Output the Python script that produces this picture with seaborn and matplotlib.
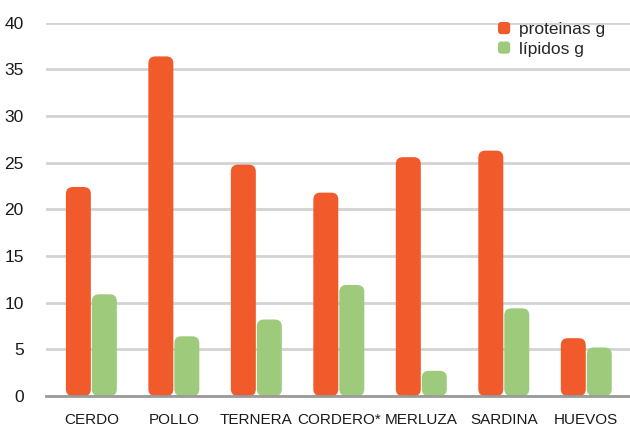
import numpy as np
import pandas as pd
import matplotlib
matplotlib.use("Agg")
import matplotlib.pyplot as plt
import seaborn as sns
from matplotlib.patches import FancyBboxPatch, Patch
from matplotlib.legend_handler import HandlerPatch

categories = ["CERDO", "POLLO", "TERNERA", "CORDERO*", "MERLUZA", "SARDINA", "HUEVOS"]
proteinas = [22.4, 36.4, 24.8, 21.8, 25.6, 26.3, 6.2]
lipidos = [10.9, 6.4, 8.2, 11.9, 2.7, 9.4, 5.2]
series_names = ["proteinas g", "lípidos g"]
colors = ["#F15A2B", "#9DCA7B"]

df = pd.DataFrame({
    "alimento": categories * 2,
    "valor": proteinas + lipidos,
    "serie": [series_names[0]] * len(categories) + [series_names[1]] * len(categories),
})

sns.set_style("white")
plt.rcParams["font.family"] = ["Liberation Sans", "DejaVu Sans"]

fig = plt.figure(figsize=(6.3, 4.3), dpi=100)
ax = fig.add_axes([0.073, 0.079, 0.927, 0.868])

sns.barplot(data=df, x="alimento", y="valor", hue="serie", palette=colors,
            saturation=1, width=0.63, ax=ax, legend=False)

xmin, xmax = -0.55, 6.53
ax.set_ylim(0, 40)
ax.set_xlim(xmin, xmax)

# swap the square bars for rounded ones (radius in pixels, converted to data units)
x_per_px = (xmax - xmin) / (0.927 * 630)
y_per_px = 40 / (0.868 * 430)
for p in list(ax.patches):
    x, y = p.get_x(), p.get_y()
    w, h = p.get_width(), p.get_height()
    fc = p.get_facecolor()
    p.remove()
    r = 7 * x_per_px
    rb = FancyBboxPatch((x + 0.5 * x_per_px, y), w - 1 * x_per_px, h,
                        boxstyle=f"round,pad=0,rounding_size={r}",
                        mutation_aspect=y_per_px / x_per_px,
                        facecolor=fc, edgecolor="none", zorder=3)
    ax.add_patch(rb)

ax.set_yticks(np.arange(0, 41, 5))
ax.yaxis.grid(True, color="#d3d3d3", linewidth=2)
ax.set_axisbelow(True)
for s in ["top", "right", "left"]:
    ax.spines[s].set_visible(False)
ax.spines["bottom"].set_color("#9a9a9a")
ax.spines["bottom"].set_linewidth(2)
ax.spines["bottom"].set_zorder(4)
ax.tick_params(axis="both", length=0, colors="#1a1a1a")
ax.tick_params(axis="x", pad=12, labelsize=11)
ax.tick_params(axis="y", pad=16, labelsize=12.5)
ax.set_xlabel("")
ax.set_ylabel("")


def rounded_handle(legend, orig_handle, xdescent, ydescent, width, height, fontsize):
    s = height * 1.0
    return FancyBboxPatch((xdescent + (width - s) / 2, -ydescent + (height - s) / 2), s, s,
                          boxstyle=f"round,pad=0,rounding_size={s * 0.25}")


handles = [Patch(facecolor=c, edgecolor="none") for c in colors]
ax.legend(handles, series_names, loc="upper right", bbox_to_anchor=(0.975, 1.03),
          frameon=False, fontsize=12.5, handlelength=0.8, handletextpad=0.45,
          labelspacing=0.25, borderaxespad=0.2,
          handler_map={Patch: HandlerPatch(patch_func=rounded_handle)})

fig.savefig("out.png", dpi=100)
